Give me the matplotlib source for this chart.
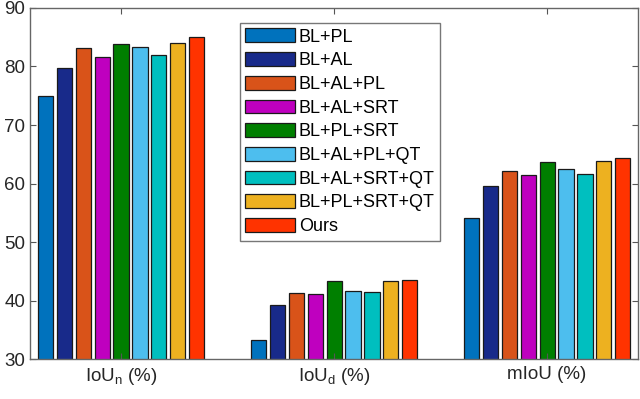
import numpy as np
import matplotlib.pyplot as plt

plt.rcParams['font.family'] = ['Liberation Sans', 'DejaVu Sans']
plt.rcParams['mathtext.fontset'] = 'custom'
plt.rcParams['mathtext.rm'] = 'Liberation Sans'

# datos
metricas = [r'IoU$_\mathrm{n}$ (%)', r'IoU$_\mathrm{d}$ (%)', 'mIoU (%)']
metodos = ['BL+PL', 'BL+AL', 'BL+AL+PL', 'BL+AL+SRT', 'BL+PL+SRT',
           'BL+AL+PL+QT', 'BL+AL+SRT+QT', 'BL+PL+SRT+QT', 'Ours']
iou_n = [75.0, 79.8, 83.1, 81.6, 83.9, 83.4, 82.0, 84.1, 85.0]
iou_d = [33.2, 39.3, 41.3, 41.2, 43.3, 41.6, 41.5, 43.4, 43.6]
miou = [54.1, 59.5, 62.1, 61.4, 63.6, 62.5, 61.7, 63.8, 64.3]
colores = ['#0072BD', '#182A8A', '#D95319', '#BF00BF', '#007F00',
           '#4DBEEE', '#00BFBF', '#EDB120', '#FF3300']

valores = np.array([iou_n, iou_d, miou])  # grupos x metodos

fig = plt.figure(figsize=(6.4, 3.99), dpi=100)
ax = fig.add_axes([0.047, 0.10, 0.950, 0.880])

x = np.arange(1, 4)
n = len(metodos)
ancho_grupo = 0.8
slot = ancho_grupo / n
for i in range(n):
    pos = x - ancho_grupo / 2 + slot * (i + 0.5)
    ax.bar(pos, valores[:, i], width=slot * 0.8, bottom=0,
           color=colores[i], edgecolor='#1a1a1a', linewidth=0.9,
           label=metodos[i])

ax.set_ylim(30, 90)
ax.set_xlim(0.573, 3.427)
ax.set_xticks(x)
ax.set_xticklabels(metricas, fontsize=13.5, color='#262626')
ax.set_yticks(np.arange(30, 91, 10))
ax.tick_params(axis='y', labelsize=13.5, labelcolor='#262626', pad=3.5)
ax.tick_params(axis='x', pad=5)
ax.tick_params(direction='in', length=4, color='#555555',
               top=True, right=True)
for s in ax.spines.values():
    s.set_color('#666666')
    s.set_linewidth(1.0)

leg = ax.legend(loc='upper left', bbox_to_anchor=(0.345, 0.957),
                fontsize=13, frameon=True, fancybox=False,
                edgecolor='#555555', handlelength=2.75, handleheight=0.8,
                labelspacing=0.36, handletextpad=0.22, borderpad=0.3,
                borderaxespad=0)
leg.get_frame().set_linewidth(1.0)

fig.savefig('out.png', dpi=100)
